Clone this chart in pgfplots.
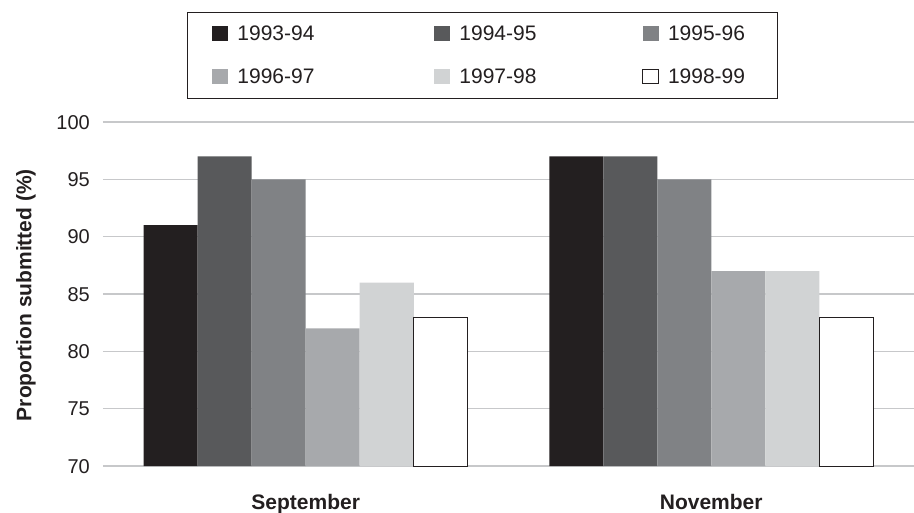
\documentclass[border=0pt]{standalone}
\usepackage{fontspec}
\setmainfont{Liberation Sans}
\usepackage{pgfplots}
\pgfplotsset{compat=1.18}
\definecolor{c1}{HTML}{231F20}
\definecolor{c2}{HTML}{58595B}
\definecolor{c3}{HTML}{808285}
\definecolor{c4}{HTML}{A7A9AC}
\definecolor{c5}{HTML}{D1D3D4}
\definecolor{gridgray}{HTML}{C7C8CA}
\begin{document}
\fontsize{20}{24}\selectfont
\begin{tikzpicture}
\useasboundingbox (-103pt,-46pt) rectangle (811pt,466pt);
\begin{axis}[
  at={(0,0)}, anchor=south west,
  scale only axis, width=811pt, height=344pt,
  ybar=0pt, bar width=54pt,
  xmin=-0.5, xmax=1.5, ymin=70, ymax=100,
  xtick={0,1}, xticklabels={September,November},
  ytick={70,75,...,100},
  ymajorgrids, grid style={color=gridgray, line width=1.2pt},
  axis line style={draw=none},
  major tick length=0pt,
  /pgf/number format/assume math mode=true,
  tick label style={font=\fontsize{20}{24}\selectfont, text=c1},
  xticklabel style={font=\fontsize{21}{25}\selectfont\bfseries, anchor=base, yshift=-43pt},
  yticklabel style={anchor=base east, inner xsep=0pt, xshift=-13pt, yshift=-7pt},
  ylabel={Proportion submitted (\%)},
  ylabel style={font=\fontsize{21}{25}\selectfont\bfseries, text=c1, at={(axis description cs:-0.0949,0.497)}, anchor=center},
  legend columns=3,
  legend cell align=left,
  legend style={at={(axis description cs:0.1036,1.3198)}, anchor=north west,
    draw=c1, line width=0.8pt, fill=white,
    inner xsep=25pt, inner ysep=14pt, row sep=28pt,
    nodes={inner sep=0pt, text width=84pt, text height=14.5pt, text depth=0pt, font=\fontsize{21}{25}\selectfont, text=c1},
    /tikz/every odd column/.append style={column sep=9pt},
    /tikz/column 2/.append style={column sep=113pt},
    /tikz/column 4/.append style={column sep=99pt}},
  every axis plot post/.append style={legend image code/.code={\path[##1, line width=0.6pt] (0pt,-7.25pt) rectangle (16pt,7.25pt);}},
]
\addplot[fill=c1, draw=none] coordinates {(0,91) (1,97)};
\addplot[fill=c2, draw=none] coordinates {(0,97) (1,97)};
\addplot[fill=c3, draw=none] coordinates {(0,95) (1,95)};
\addplot[fill=c4, draw=none] coordinates {(0,82) (1,87)};
\addplot[fill=c5, draw=none] coordinates {(0,86) (1,87)};
\addplot[fill=white, draw=c1, line width=0.8pt] coordinates {(0,83) (1,83)};
\legend{1993-94,1994-95,1995-96,1996-97,1997-98,1998-99}
\end{axis}
\end{tikzpicture}
\end{document}
